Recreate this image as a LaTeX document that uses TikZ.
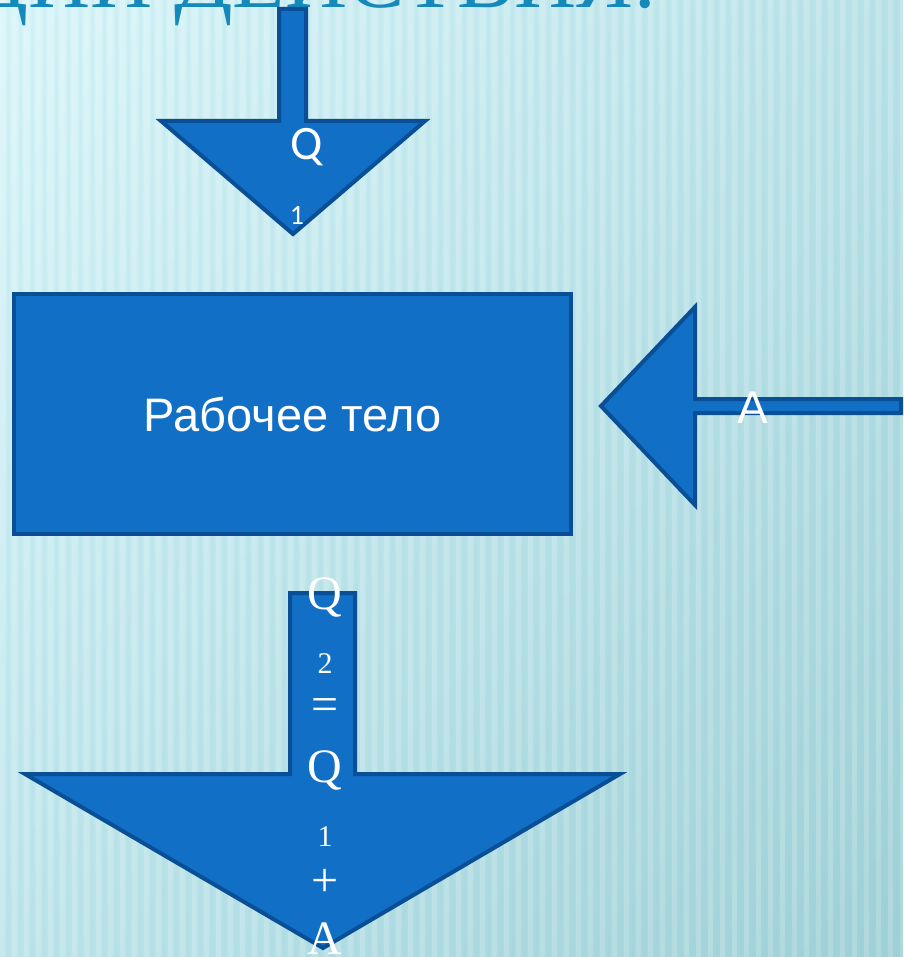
\documentclass[tikz,border=0pt]{standalone}
\usepackage{fontspec}
\usetikzlibrary{shadings}
\setmainfont{Liberation Serif}
\newfontfamily\arialf{Liberation Sans}
\newfontfamily\calf{Carlito}
\definecolor{bgA}{HTML}{D8F6FA}
\definecolor{bgB}{HTML}{B8E2E8}
\definecolor{bgC}{HTML}{BCE5EB}
\definecolor{bgD}{HTML}{9ED0D7}
\definecolor{titleC}{HTML}{1589BA}
\definecolor{arrFill}{HTML}{116FC6}
\definecolor{arrLine}{HTML}{0A4F95}
\tikzset{
  blockarrow/.style={fill=arrFill, draw=arrLine, line width=4pt, line join=miter},
  bodybox/.style={rectangle, fill=arrFill, draw=arrLine, line width=4pt, inner sep=0pt,
     minimum width=557pt, minimum height=240pt, text=white,
     font=\arialf\fontsize{47}{50}\selectfont},
  wlabel/.style={text=white, inner sep=0pt},
  stackch/.style={text=white, inner sep=0pt, anchor=base, font=\fontsize{48}{48}\selectfont},
  stacksub/.style={text=white, inner sep=0pt, anchor=base, font=\fontsize{30}{30}\selectfont},
}
\begin{document}
\begin{tikzpicture}[x=1pt,y=-1pt]
\useasboundingbox (0,0) rectangle (903,957);
\begin{scope}
\clip (0,0) rectangle (903,957);
% background
\shade[upper left=bgA, upper right=bgB, lower left=bgC, lower right=bgD] (0,0) rectangle (903,957);
\foreach \i in {0,...,76} {
  \fill[white, opacity=0.17] (\i*12,0) rectangle ++(5,957);
  \fill[bgD, opacity=0.12] (\i*12+7,0) rectangle ++(3,957);
}
% title (cut off at top)
\node[anchor=base east, inner sep=0pt, text=titleC, font=\fontsize{86}{86}\selectfont] (title) at (656,8) {ЦИИ ДЕЙСТВИЯ.};

% top arrow Q1
\path[blockarrow] (279,9) -- (306,9) -- (306,121) -- (425,121) -- (293,234) -- (161,121) -- (279,121) -- cycle;
\node[wlabel, anchor=base, font=\calf\fontsize{48}{48}\selectfont] (q1top) at (307,160) {Q};
\node[wlabel, anchor=base, font=\calf\fontsize{28}{28}\selectfont] (q1sub) at (297,225) {1};

% working body
\node[bodybox] (body) at (292.5,414) {Рабочее тело};

% right arrow A
\path[blockarrow] (901,399) -- (695,399) -- (695,307) -- (601,406) -- (695,505) -- (695,413) -- (901,413) -- cycle;
\node[wlabel, anchor=base, font=\arialf\fontsize{46}{46}\selectfont] (alab) at (753,423) {A};

% bottom arrow Q2 = Q1 + A
\path[blockarrow] (290,593) -- (355,593) -- (355,774) -- (620,774) -- (323,948) -- (25,774) -- (290,774) -- cycle;
\node[stackch] (s1) at (325,609) {Q};
\node[stacksub] (s2) at (325,673) {2};
\node[stackch, anchor=center] (s3) at (325,710) {=};
\node[stackch] (s4) at (325,782) {Q};
\node[stacksub] (s5) at (325,846) {1};
\node[stackch, anchor=center] (s6) at (325,883) {+};
\node[stackch] (s7) at (325,954) {A};
\end{scope}
\end{tikzpicture}
\end{document}
